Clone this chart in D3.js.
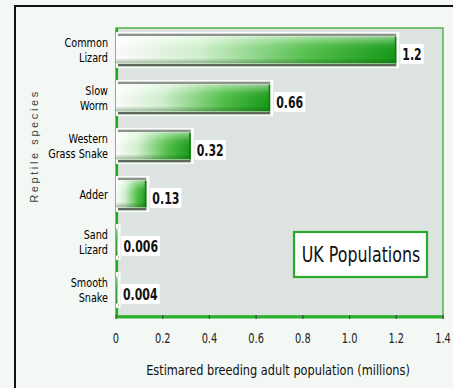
<!DOCTYPE html>
<html><head><meta charset="utf-8">
<script src="https://cdn.jsdelivr.net/npm/d3@7"></script>
<style>
html,body{margin:0;padding:0;background:#f4f8f4;}
svg{display:block;}
</style></head><body>
<svg id="c" width="453" height="388"></svg>
<script>
const species = [["Common","Lizard"],["Slow","Worm"],["Western","Grass Snake"],["Adder"],["Sand","Lizard"],["Smooth","Snake"]];
const values = [1.2, 0.66, 0.32, 0.13, 0.006, 0.004];
const valueLabels = ["1.2","0.66","0.32","0.13","0.006","0.004"];
const xTicks = [0,0.2,0.4,0.6,0.8,1.0,1.2,1.4];
const xTickLabels = ["0","0.2","0.4","0.6","0.8","1.0","1.2","1.4"];
const xTitle = "Estimared breeding adult population (millions)";
const yTitle = "Reptile species";
const boxTitle = "UK Populations";

const FONT = "'DejaVu Sans Condensed','DejaVu Sans',sans-serif";
const svg = d3.select("#c");
const L = 116, R = 443, T = 28, B = 316;

function ctext(parent, px, py, k, str, opts) {
  const g = parent.append("g").attr("transform", `translate(${px},${py}) scale(${k},1)`);
  const t = g.append("text").attr("x",0).attr("y",0).attr("font-family",FONT)
    .attr("font-size",opts.size).attr("fill",opts.fill||"#111")
    .attr("text-anchor",opts.anchor||"start").attr("font-weight",opts.weight||"normal").text(str);
  return {g,t};
}

const x = d3.scaleLinear().domain([0,1.4]).range([L,R]);
const y = d3.scaleBand().domain(species.map((d,i)=>i)).range([T-2,B-2]).paddingInner(0.38).paddingOuter(0.19);

// outer frame
svg.append("rect").attr("x",0).attr("y",0).attr("width",453).attr("height",388).attr("fill","#f4f8f4");
svg.append("path").attr("d","M15,400 V6 H460").attr("fill","none").attr("stroke","#111").attr("stroke-width",2);

const defs = svg.append("defs");
const gH = defs.append("linearGradient").attr("id","gh").attr("x1","0").attr("x2","1").attr("y1","0").attr("y2","0");
gH.append("stop").attr("offset","0").attr("stop-color","#ffffff");
gH.append("stop").attr("offset","0.3").attr("stop-color","#d2f2cf");
gH.append("stop").attr("offset","0.7").attr("stop-color","#50c048");
gH.append("stop").attr("offset","1").attr("stop-color","#169a16");
const gV = defs.append("linearGradient").attr("id","gv").attr("x1","0").attr("x2","0").attr("y1","0").attr("y2","1");
gV.append("stop").attr("offset","0").attr("stop-color","#ffffff").attr("stop-opacity",0.5);
gV.append("stop").attr("offset","0.3").attr("stop-color","#ffffff").attr("stop-opacity",0.1);
gV.append("stop").attr("offset","0.8").attr("stop-color","#000000").attr("stop-opacity",0.0);
gV.append("stop").attr("offset","1").attr("stop-color","#0a5a0a").attr("stop-opacity",0.35);

// plot background
svg.append("rect").attr("x",L).attr("y",T).attr("width",R-L).attr("height",B-T)
  .attr("fill","#dde3e1").attr("stroke","#2aa82a").attr("stroke-width",1.2);
svg.append("line").attr("x1",L+1).attr("x2",L+1).attr("y1",T).attr("y2",B).attr("stroke","#22a822").attr("stroke-width",2.2);
svg.append("line").attr("x1",L).attr("x2",R+1).attr("y1",B+1).attr("y2",B+1).attr("stroke","#2cb02c").attr("stroke-width",3);

// bars
const bh = y.bandwidth();
const bars = svg.append("g");
values.forEach((v,i)=>{
  const y0 = y(i), x1 = x(v);
  const w = Math.max(x1 - L, 1.5);
  bars.append("rect").attr("x",L).attr("y",y0-3).attr("width",w+3).attr("height",bh+6).attr("fill","#ffffff");
  bars.append("rect").attr("x",L+2).attr("y",y0-1.5).attr("width",Math.max(w-2,0.5)).attr("height",2.5).attr("fill","#8c948c");
  bars.append("rect").attr("x",L+2).attr("y",y0+bh-1).attr("width",Math.max(w-2,0.5)).attr("height",2.5).attr("fill","#5c6a5c");
  bars.append("rect").attr("x",L).attr("y",y0+1.5).attr("width",w).attr("height",bh-3).attr("fill", v>0.05 ? "url(#gh)" : "#3aa83a");
  bars.append("rect").attr("x",L).attr("y",y0+1.5).attr("width",w).attr("height",bh-3).attr("fill","url(#gv)");
  if (v>0.05) bars.append("rect").attr("x",x1-1.5).attr("y",y0+1.5).attr("width",1.5).attr("height",bh-3).attr("fill","#0f7a0f");
  const bgRect = bars.append("rect").attr("fill","#ffffff");
  const {t} = ctext(bars, x1+6, y0+bh/2+9.5, 0.76, valueLabels[i], {size:16, weight:"bold"});
  const bb = t.node().getBBox();
  bgRect.attr("x",x1+6+bb.x*0.76-2).attr("y",y0+bh/2+9.5+bb.y-1).attr("width",bb.width*0.76+4).attr("height",bb.height+2);
});

// category labels
species.forEach((lines,i)=>{
  const cy = y(i)+bh/2;
  const n = lines.length;
  lines.forEach((ln,j)=>{
    ctext(svg, 108, cy + (j-(n-1)/2)*14.5 + 4.5, 0.86, ln, {size:12.5, anchor:"end", fill:"#000"});
  });
});

// x axis ticks and labels
const ax = svg.append("g");
xTicks.forEach((v,i)=>{
  ax.append("line").attr("x1",x(v)).attr("x2",x(v)).attr("y1",B-1).attr("y2",B+3).attr("stroke","#444").attr("stroke-width",1.2);
  ctext(ax, x(v), 342.5, 0.78, xTickLabels[i], {size:14, anchor:"middle", fill:"#222"});
});
ctext(svg, 278, 375, 0.87, xTitle, {size:14.5, anchor:"middle", fill:"#111"});

// y title
svg.append("text").attr("transform","translate(38,146) rotate(-90)").attr("text-anchor","middle")
  .attr("font-family","'Liberation Sans',sans-serif").attr("font-size",11).attr("letter-spacing",2.6)
  .attr("fill","#3a453a").text(yTitle);

// UK Populations box
svg.append("rect").attr("x",294).attr("y",232).attr("width",133).attr("height",45)
  .attr("fill","#ffffff").attr("stroke","#2aaa2a").attr("stroke-width",2.2);
ctext(svg, 361, 261.5, 0.86, boxTitle, {size:20.5, anchor:"middle", fill:"#111"});
</script>
</body></html>
